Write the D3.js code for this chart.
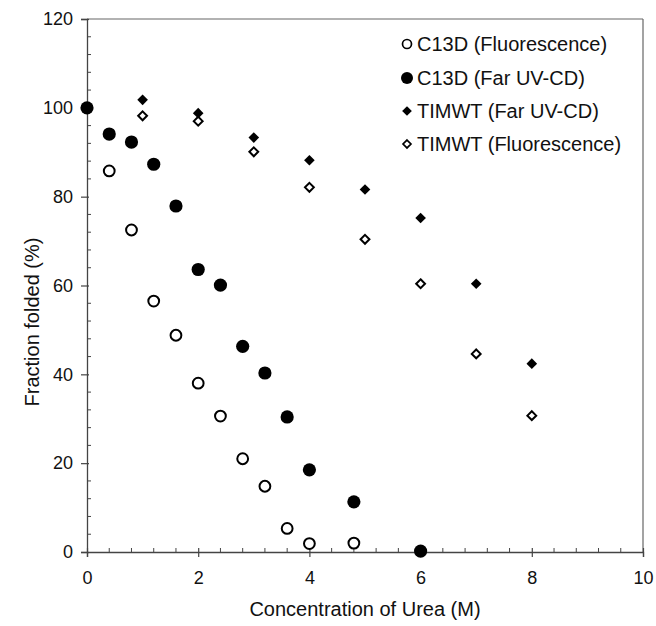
<!DOCTYPE html>
<html><head><meta charset="utf-8">
<script src="https://cdn.jsdelivr.net/npm/d3@7"></script>
<style>body{margin:0;background:#fff}svg{display:block}text{font-family:"Liberation Sans",Arial,sans-serif;fill:#111}</style>
</head><body>
<svg id="c" width="656" height="626"></svg>
<script>
// Data
const c13dFluorX = [0.4,0.8,1.2,1.6,2.0,2.4,2.8,3.2,3.6,4.0,4.8];
const c13dFluorY = [85.8,72.5,56.5,48.8,38.0,30.6,21.0,14.8,5.3,1.9,2.0];
const c13dCdX = [0,0.4,0.8,1.2,1.6,2.0,2.4,2.8,3.2,3.6,4.0,4.8,6.0];
const c13dCdY = [100,94.1,92.3,87.3,77.9,63.6,60.1,46.3,40.3,30.4,18.5,11.3,0.2];
const timCdX = [1,2,3,4,5,6,7,8];
const timCdY = [101.8,98.8,93.3,88.2,81.6,75.2,60.4,42.4];
const timFluorX = [1,2,3,4,5,6,7,8];
const timFluorY = [98.2,97.0,90.1,82.1,70.4,60.4,44.6,30.7];
const xTicks = [0,2,4,6,8,10];
const yTicks = [0,20,40,60,80,100,120];
const seriesNames = ["C13D (Fluorescence)","C13D (Far UV-CD)","TIMWT (Far UV-CD)","TIMWT (Fluorescence)"];
const xTitle = "Concentration of Urea (M)";
const yTitle = "Fraction folded (%)";

const svg = d3.select("#c");
const L=87, R=643, T=19, B=552;
const x = d3.scaleLinear().domain([0,10]).range([L,R]);
const y = d3.scaleLinear().domain([0,120]).range([B,T]);
const axisCol = "#444";

// frame top & right
svg.append("line").attr("x1",L).attr("x2",R).attr("y1",T).attr("y2",T).attr("stroke","#666").attr("stroke-width",1.2);
svg.append("line").attr("x1",R).attr("x2",R).attr("y1",T).attr("y2",B).attr("stroke","#666").attr("stroke-width",1.2);

// x axis
const xa = svg.append("g").attr("transform",`translate(0,${B})`)
  .call(d3.axisBottom(x).tickValues(xTicks).tickFormat(d3.format("d")).tickSize(5).tickPadding(14));
xa.select(".domain").attr("stroke",axisCol).attr("stroke-width",1.3);
xa.selectAll(".tick line").attr("stroke",axisCol).attr("y1",-4).attr("stroke-width",1.2);
xa.selectAll(".tick text").attr("font-size",18).attr("fill","#111");
const xMinor = d3.range(0,10.001,0.4).filter(v=>Math.abs(v/2-Math.round(v/2))>1e-6);
svg.append("g").selectAll("line").data(xMinor).join("line")
  .attr("x1",d=>x(d)).attr("x2",d=>x(d)).attr("y1",B).attr("y2",B-4).attr("stroke",axisCol).attr("stroke-width",1);

// y axis
const ya = svg.append("g").attr("transform",`translate(${L},0)`)
  .call(d3.axisLeft(y).tickValues(yTicks).tickFormat(d3.format("d")).tickSize(6).tickPadding(8));
ya.select(".domain").attr("stroke",axisCol).attr("stroke-width",1.3);
ya.selectAll(".tick line").attr("stroke",axisCol).attr("x1",2).attr("stroke-width",1.2);
ya.selectAll(".tick text").attr("font-size",18).attr("fill","#111");
const yMinor = d3.range(0,120.001,4).filter(v=>v%20!==0);
svg.append("g").selectAll("line").data(yMinor).join("line")
  .attr("x1",L).attr("x2",L+4).attr("y1",d=>y(d)).attr("y2",d=>y(d)).attr("stroke",axisCol).attr("stroke-width",1);

// titles
svg.append("text").attr("x",(L+R)/2).attr("y",616).attr("text-anchor","middle").attr("font-size",20).text(xTitle);
svg.append("text").attr("transform",`translate(39,322) rotate(-90)`).attr("text-anchor","middle").attr("font-size",20).text(yTitle);

// marks
const zip=(a,b)=>a.map((v,i)=>[v,b[i]]);
const diamond = d3.symbol().type(d3.symbolDiamond2);
const g = svg.append("g");
g.selectAll(".fc").data(zip(c13dCdX,c13dCdY)).join("circle")
  .attr("cx",d=>x(d[0])).attr("cy",d=>y(d[1])).attr("r",6.6).attr("fill","#000");
g.selectAll(".oc").data(zip(c13dFluorX,c13dFluorY)).join("circle")
  .attr("cx",d=>x(d[0])).attr("cy",d=>y(d[1])).attr("r",5.4).attr("fill","#fff").attr("stroke","#000").attr("stroke-width",2);
g.selectAll(".fd").data(zip(timCdX,timCdY)).join("path")
  .attr("transform",d=>`translate(${x(d[0])},${y(d[1])})`).attr("d",diamond.size(72)()).attr("fill","#000");
g.selectAll(".od").data(zip(timFluorX,timFluorY)).join("path")
  .attr("transform",d=>`translate(${x(d[0])},${y(d[1])})`).attr("d",diamond.size(50)()).attr("fill","#fff").attr("stroke","#000").attr("stroke-width",2);

// legend
const lg = svg.append("g");
const ly = [44,78,111,144];
const lx = 407;
lg.append("circle").attr("cx",lx).attr("cy",ly[0]).attr("r",4.5).attr("fill","#fff").attr("stroke","#000").attr("stroke-width",1.7);
lg.append("circle").attr("cx",lx).attr("cy",ly[1]).attr("r",6).attr("fill","#000");
lg.append("path").attr("transform",`translate(${lx},${ly[2]})`).attr("d",diamond.size(60)()).attr("fill","#000");
lg.append("path").attr("transform",`translate(${lx},${ly[3]})`).attr("d",diamond.size(40)()).attr("fill","#fff").attr("stroke","#000").attr("stroke-width",1.7);
lg.selectAll("text").data(seriesNames).join("text")
  .attr("x",lx+10).attr("y",(d,i)=>ly[i]).attr("dy","0.36em").attr("font-size",20).text(d=>d);
</script>
</body></html>
